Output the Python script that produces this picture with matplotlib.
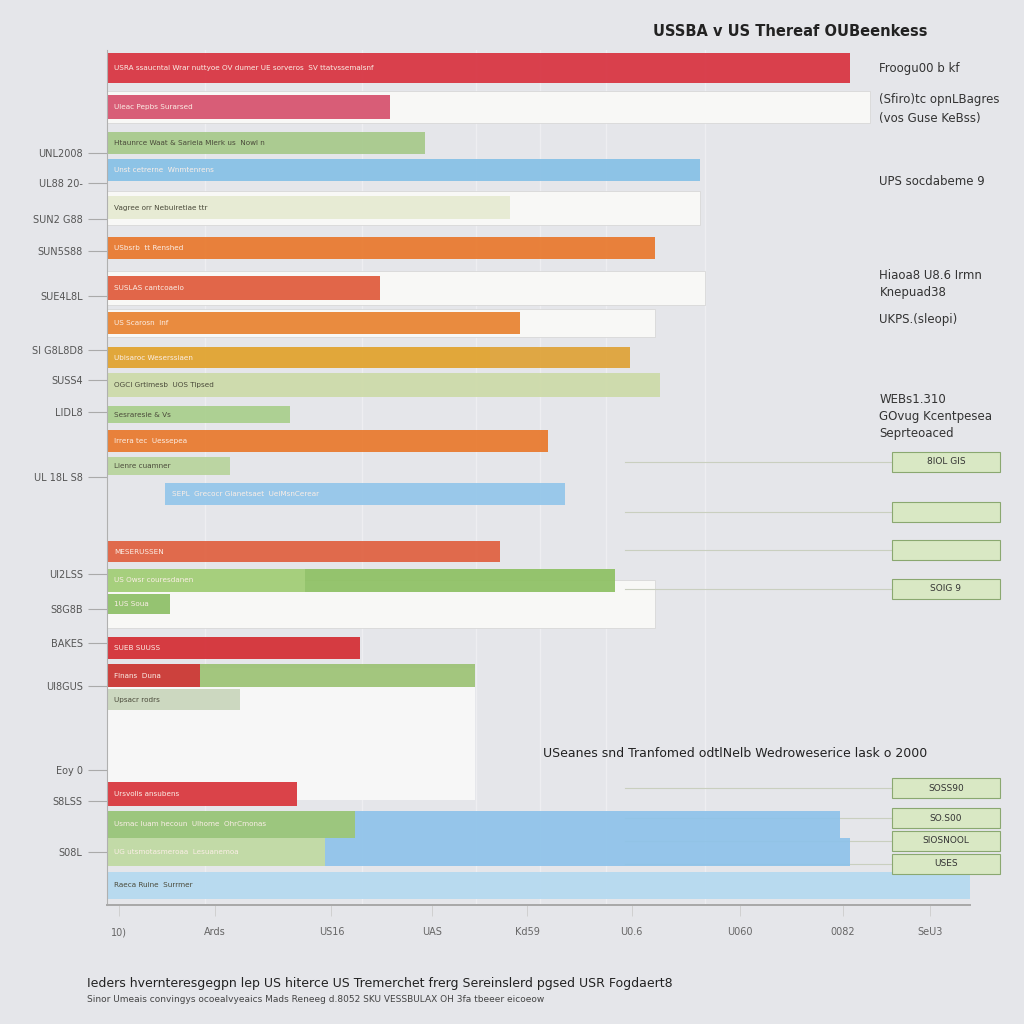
import matplotlib.pyplot as plt

# rows (top to bottom), in row units of the y axis
bar_pos = [0.63, 2.0, 3.26, 4.21, 5.54, 6.95, 8.35, 9.58, 10.8, 11.75, 12.8, 13.72,
           14.6, 15.58, 17.6, 18.6, 19.44, 20.98, 21.96, 22.8, 26.1, 27.16, 28.14, 29.3]
bar_start = [0, 0, 0, 0, 0, 0, 0, 0, 0, 0, 0, 0,
             0, 6.7, 0, 0, 0, 0, 0, 0, 0, 0, 0, 0]
bar_end = [86.1, 32.8, 36.8, 68.7, 46.7, 63.5, 31.6, 47.9, 60.6, 64.1, 21.2, 51.1,
           14.3, 53.1, 45.5, 58.9, 7.3, 29.3, 42.6, 15.4, 22.0, 84.9, 86.1, 100.0]
bar_colors = ["#d8323f", "#d6506c", "#a6c98a", "#86c0e6", "#e6ead2", "#e9782c",
              "#df5a3a", "#e8822f", "#dfa236", "#cddba8", "#a9cf8c", "#e9792c",
              "#b8d49c", "#93c6ea", "#e0603f", "#8dc062", "#8dbf66", "#d42c33",
              "#9cc274", "#c9d6bc", "#d8343a", "#8ec3ea", "#8ec3ea", "#b4d9f0"]
bar_height = [1.05, 0.85, 0.8, 0.8, 0.8, 0.8, 0.85, 0.75, 0.75, 0.85, 0.6, 0.8,
              0.65, 0.75, 0.75, 0.8, 0.7, 0.75, 0.8, 0.75, 0.85, 0.95, 0.95, 0.95]
bar_text = ["USRA ssaucntal Wrar nuttyoe OV dumer UE sorveros  SV ttatvssemalsnf", "Uleac Pepbs Surarsed",
            "Htaunrce Waat & Sarieia Mlerk us  Nowl nat alrot de tu vebn", "Unst cetrerne  Wnmtenrens",
            "Vagree orr Nebuiretiae ttr", "USbsrb  tt Renshed", "SUSLAS cantcoaeio",
            "US Scarosn  Inf", "Ubisaroc Weserssiaen", "OGCI Grtimesb  UOS Tipsed",
            "Sesraresie & Vs", "Irrera tec  Uessepea", "Lienre cuamner", "SEPL  Grecocr Gianetsaet  UeiMsnCerear",
            "MESERUSSEN", "US Owsr couresdanen", "1US Souanen", "SUEB SUUSS", "Flnans  Duna",
            "Upsacr rodrs", "Ursvolis ansubens", "Usmac luam hecoun  Ulhome  OhrCmonas", "UG utsmotasmeroaa  Lesuanemoa",
            "Raeca Ruine  Surrmer"]

# pale background panels behind some rows
panel_pos = [2.0, 5.54, 8.35, 9.58, 19.44]
panel_end = [88.4, 68.7, 69.3, 63.5, 63.5]
panel_height = [1.1, 1.2, 1.2, 1.0, 1.7]

# lighter lead-in segments drawn over some bars
seg_pos = [10.8, 18.6, 21.96, 27.16, 28.14]
seg_end = [44.4, 22.9, 10.8, 28.7, 25.3]
seg_colors = ["#e2a83a", "#a8d07e", "#cf3a3a", "#9dc778", "#c5dca4"]

# left axis labels
ytick_pos = [3.61, 4.67, 5.93, 7.05, 8.63, 10.53, 11.58, 12.7, 14.98, 18.39,
             19.61, 20.81, 22.32, 25.26, 26.35, 28.14]
ytick_labels = ["UNL2008", "UL88 20-", "SUN2 G88", "SUN5S88", "SUE4L8L", "SI G8L8D8",
                "SUSS4", "LIDL8", "UL 18L S8", "UI2LSS", "S8G8B", "BAKES", "UI8GUS",
                "Eoy 0", "S8LSS", "S08L"]

xtick_pos = [1.4, 12.5, 26.0, 37.7, 48.7, 60.8, 73.3, 85.3, 95.4]
xtick_labels = ["10)", "Ards", "US16", "UAS", "Kd59", "U0.6", "U060", "0082", "SeU3"]

# right side notes
note_rows = [0.65, 1.75, 2.4, 4.6, 7.9, 8.5, 9.45, 12.25, 12.85, 13.45]
note_texts = ["Froogu00 b kf", "(Sfiro)tc opnLBagres", "(vos Guse KeBss)", "UPS socdabeme 9",
              "Hiaoa8 U8.6 Irmn", "Knepuad38", "UKPS.(sleopi)", "WEBs1.310",
              "GOvug Kcentpesea", "Seprteoaced"]

box_rows = [14.45, 16.2, 17.55, 18.9, 25.9, 26.95, 27.75, 28.55]
box_texts = ["8IOL GIS", "", "", "SOIG 9", "SOSS90", "SO.S00", "SIOSNOOL", "USES"]

fig = plt.figure(figsize=(10.24, 10.24), dpi=100)
fig.patch.set_facecolor("#e5e6ea")
ax = fig.add_axes([107 / 1024, 1 - 905 / 1024, 863 / 1024, 855 / 1024])
ax.set_facecolor("#e5e6ea")
ax.set_xlim(0, 100)
ax.set_ylim(30, 0)

for gx in [11.4, 29.6, 42.7, 50.2, 57.8, 69.3]:
    ax.axvline(gx, color="#eeeef1", linewidth=1.0, zorder=0)

# big white panel in the lower half
ax.barh(24.0, 42.6, left=0, height=4.6, color="#f7f7f7", zorder=0.5)

ax.barh(panel_pos, panel_end, height=panel_height, color="#f8f8f6",
        edgecolor="#d8d8d8", linewidth=0.6, zorder=1)

widths = [e - s for s, e in zip(bar_start, bar_end)]
ax.barh(bar_pos, widths, left=bar_start, height=bar_height, color=bar_colors,
        alpha=0.92, zorder=2)
ax.barh(seg_pos, seg_end, height=[0.75, 0.8, 0.8, 0.95, 0.95], color=seg_colors,
        alpha=0.95, zorder=2.5)

for p, s, e, t, c in zip(bar_pos, bar_start, bar_end, bar_text, bar_colors):
    dark = c in ("#e6ead2", "#cddba8", "#c9d6bc", "#b8d49c", "#a9cf8c", "#a6c98a", "#b4d9f0")
    ax.text(s + 0.8, p, t[:max(8, int((e - s) * 1.1))], fontsize=5.2,
            color="#4a4a3a" if dark else "#fbeee6", va="center", ha="left",
            zorder=3, clip_on=True)

# right-side boxes
for r, t in zip(box_rows, box_texts):
    ax.barh(r, 12.5, left=91.0, height=0.7, color="#d9e8c4", edgecolor="#8aa870",
            linewidth=0.8, zorder=2, clip_on=False)
    ax.text(97.2, r, t, fontsize=6.5, color="#333333", ha="center", va="center",
            zorder=3, clip_on=False)
    ax.plot([60, 91], [r, r], color="#c9cfbf", linewidth=0.8, zorder=1.5, clip_on=False)

for r, t in zip(note_rows, note_texts):
    ax.text(89.5, r, t, fontsize=8.5, color="#333333", ha="left", va="center", clip_on=False)

ax.text(50.5, 24.7, "USeanes snd Tranfomed odtlNelb Wedroweserice lask o 2000",
        fontsize=9, color="#222222", ha="left", va="center")

ax.set_yticks(ytick_pos)
ax.set_yticklabels(ytick_labels, fontsize=7, color="#555555")
ax.set_xticks(xtick_pos)
ax.set_xticklabels(xtick_labels, fontsize=7, color="#666666")
ax.tick_params(axis="y", length=14, color="#aaaaaa", width=0.8)
ax.tick_params(axis="x", length=8, color="#cccccc", width=0.6, pad=8)

for side in ["top", "right"]:
    ax.spines[side].set_visible(False)
ax.spines["left"].set_color("#b0b0b0")
ax.spines["bottom"].set_color("#a8a8a8")
ax.spines["bottom"].set_linewidth(1.4)

fig.text(790 / 1024, 1 - 32 / 1024, "USSBA v US Thereaf OUBeenkess", fontsize=10.5,
         color="#222222", ha="center", va="center", fontweight="semibold")
fig.text(87 / 1024, 1 - 983 / 1024,
         "Ieders hvernteresgegpn lep US hiterce US Tremerchet frerg Sereinslerd pgsed USR Fogdaert8",
         fontsize=9, color="#222222", ha="left", va="center", fontweight="medium")
fig.text(87 / 1024, 1 - 999 / 1024,
         "Sinor Umeais convingys ocoealvyeaics Mads Reneeg d.8052 SKU VESSBULAX OH 3fa tbeeer eicoeow",
         fontsize=6.5, color="#444444", ha="left", va="center")

fig.savefig("out.png", dpi=100, facecolor=fig.get_facecolor())
